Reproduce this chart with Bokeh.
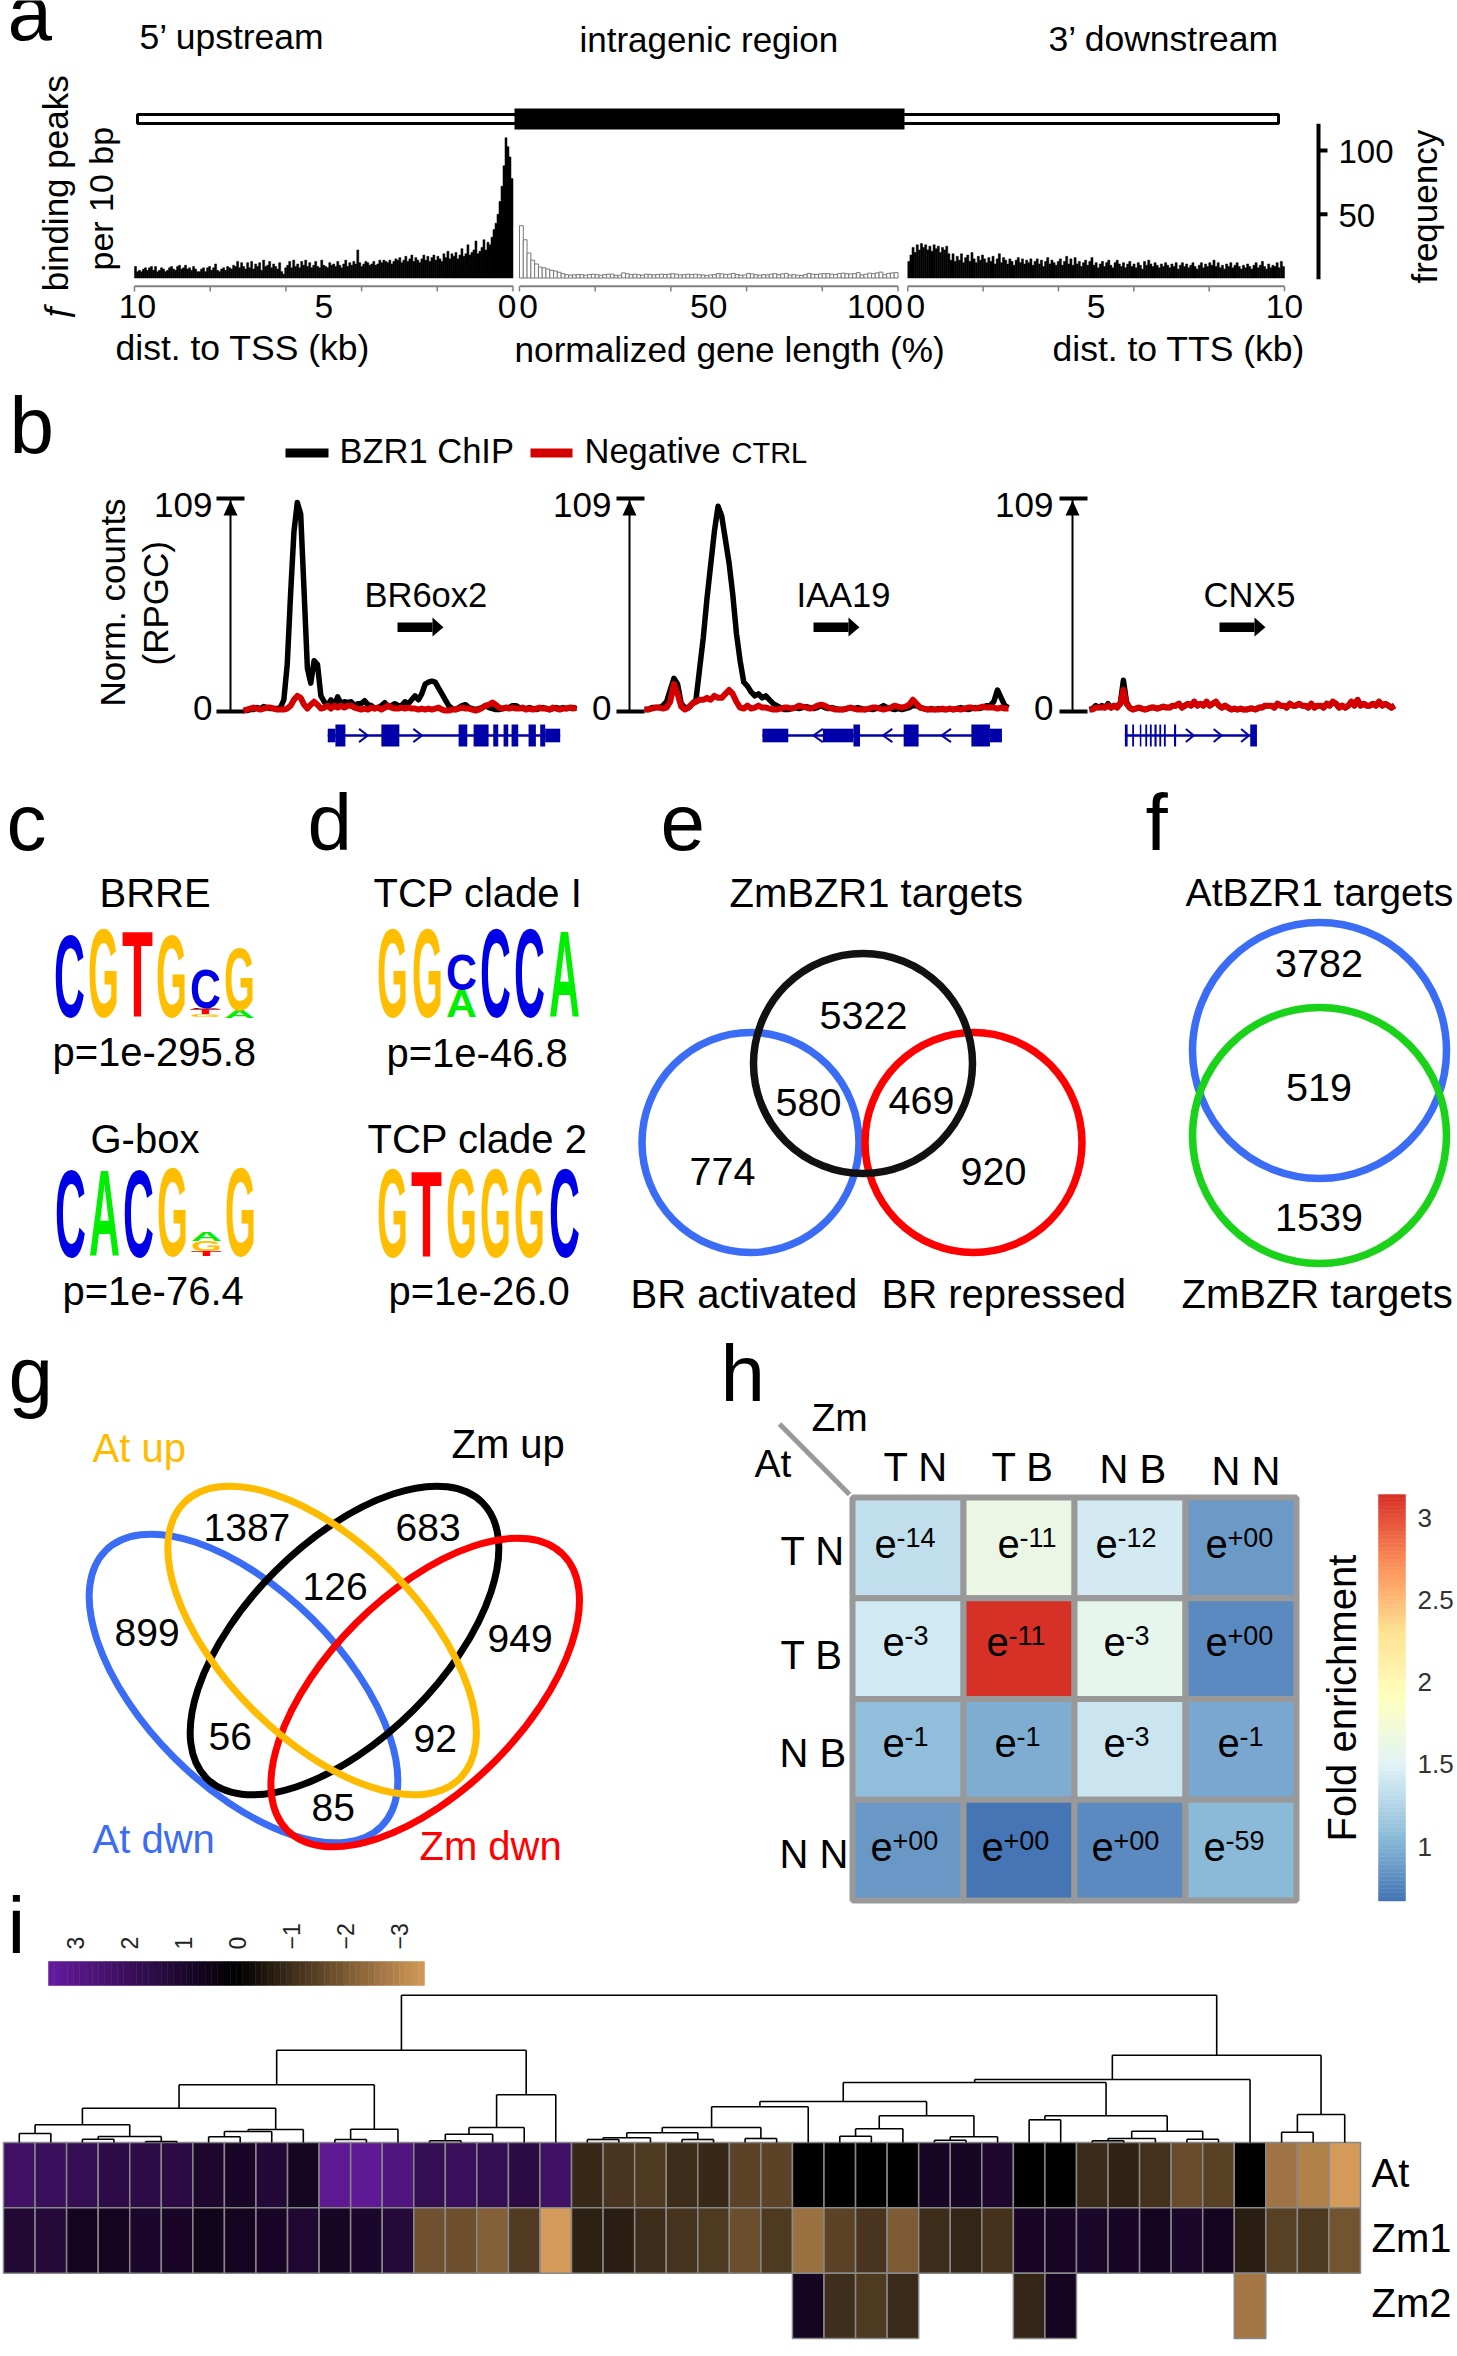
import numpy as np
from bokeh.core.properties import value
from bokeh.embed import file_html
from bokeh.layouts import column
from bokeh.models import ColumnDataSource, Div, LinearColorMapper, Range1d
from bokeh.plotting import figure
from bokeh.resources import INLINE
from bokeh.transform import transform

# ---------- panel a ----------
hist_upstream = [
 9,5,6,5,7,8,6,8,9,6,9,5,6,8,7,5,6,8,9,7,6,9,10,7,8,10,7,8,6,9,7,5,
 5,7,8,5,8,9,6,8,11,6,5,7,8,6,9,8,7,10,9,13,8,12,9,7,12,8,13,7,11,9,12,6,14,
 9,10,13,8,11,9,7,12,5,3,8,10,13,8,14,9,11,8,13,10,14,9,12,8,10,13,9,8,14,10,9,8,12,
 10,11,9,13,10,8,11,14,9,12,10,13,11,22,12,9,11,13,12,10,11,13,10,11,14,12,14,13,12,14,11,13,15,
 14,16,12,14,17,13,15,18,13,16,14,12,15,18,14,17,13,16,18,14,17,15,13,19,16,21,15,19,17,20,15,18,23,
 17,19,26,18,20,22,29,19,21,24,30,22,28,26,32,38,43,50,60,72,88,110,103,95,78]
hist_intragenic = [
 41,30,19.6,14,11,8.6,8,7,6,5.5,4.5,3.4,2.6,2.2,2.5,2.8,2.6,2.2,2.8,3,2.6,2.2,2.6,3,3,2,2.2,4,3.4,2.6,
 3,2.6,2.2,3,2.8,2.4,2.8,3,2.8,3,3.4,3,2.4,2.6,3,2.8,3,2.6,2.4,2,2.4,2.6,3.4,3.2,2.8,3,3.6,2.8,2.2,2.4,
 3.6,3.2,2.6,2.2,2.6,2.4,3,3.4,2.6,3.2,3.6,2.4,2.6,2.2,2,2.6,3.6,3,2.8,3.2,3.4,3.4,3,2.8,3.4,3.8,3.4,
 3.2,3.4,4.2,2.4,3,3.8,3.4,4,4.6,2.6,3.6,4,4.2]
hist_downstream = [
 13,18,24,20,26,22,27,24,26,22,25,21,26,23,25,20,24,22,25,19,
 14,19,13,17,14,19,12,16,18,13,20,15,12,17,14,18,15,12,16,13,
 17,11,15,19,12,16,14,11,15,13,10,14,16,12,15,11,14,12,15,10,
 13,15,11,14,9,13,16,11,14,12,10,13,15,10,13,17,11,15,10,16,
 11,13,9,12,14,10,13,16,10,12,8,11,13,9,12,14,10,8,12,14,
 11,9,12,8,11,13,9,11,8,12,10,7,13,10,14,11,9,12,10,8,
 11,9,12,10,8,11,9,12,7,10,12,9,11,8,10,12,9,7,10,12,
 8,11,9,12,10,14,9,12,8,10,7,11,9,12,8,10,12,9,7,10,
 8,11,9,7,10,12,8,10,13,9,7,11,8,10,9,12,8,13,9]
kb_ticks = [10, 8, 6, 4, 2, 0]
pct_ticks = [0, 20, 40, 60, 80, 100]
kb_ticks_down = [0, 2, 4, 6, 8, 10]
freq_ticks = [50, 100]

# ---------- panel b ----------
br6ox2_chip = [0.5,0.5,1,1,2,1.5,2.5,2,1.5,1.5,1.5,2,6,24,60,92,107,101,62,22,14.5,26,24,8,5,3,6,3,7.5,4,5,4.5,5,3,4,4,5.5,3.5,3,1.5,2,3,4.5,2.5,3,4,3,3,5,4,6,8,6,9,14,15,15.5,15,12,9,6,3,1.5,1,2,3,3.5,2,1.5,1,1.5,2,3,2,1.5,1,1,1.5,2,2,3,3,2,1.5,1.5,2,1.5,1,1.5,2,1.5,1,1.5,2,1.5,2,1.5,2,2,1.5]
br6ox2_ctrl = [0.5,1,1.5,2,1.5,1,1.5,2,2,1.5,1,1,1,1.5,3,6,8,7,3.5,1.5,3.5,5,3.5,1.5,2,3,1.5,3,2,3,2,3,3,2,1.5,1,1.5,1,2,1.5,2,1,2,3,2,1.5,1.5,2,1.5,2,1.5,1.5,1,1.5,1,1.5,1,1.5,2,1,0.5,0.5,1,1,1.5,2,1.5,1.5,1,0.5,1,2,3,3.5,4.6,3.5,2,1.5,2,1.5,2,1.5,1.5,2,1,1.5,1,1.5,2,1.5,1.5,1,2,1.5,1,1.5,1.5,2,1.5,2]
iaa19_chip = [1,1,2,2,2,3,5,11,17,14,4,2,2,4,6,22,38,58,75,92,105,100,88,76,60,40,26,15,13,10,8,9,7,8,6,4,3,2,1,1,1.5,2,1.5,2,2.5,2,1.5,2,3,2,1.5,2,1.5,1,1,1.5,2,1.5,2,1.5,1,1.5,1,1.5,2,3,2,1.5,1,1.5,1,1.5,2,3,3,2,1.5,1,1.5,1,1.5,1,1,1.5,1,1.5,2,1.5,1,1.5,2,1.5,2,3,3,5,11,7,3,2]
iaa19_ctrl = [1,1,1.5,2,2,1.5,2,5,14,9,2.5,1,2,4,5,6,6,7,6,8,7,7,9,11,9,5,2,1.5,3,1.5,2,3,2,2,1.5,1,1,1.5,2,2,1.5,2,3,2.5,2,1.5,2,3,3.5,3,2,1.5,1,1,1,1.5,2,1.5,1,1,1,1.5,2,2,1.5,1,1.5,2,3,2.5,2,2.5,3.5,6,4,2,1.5,1,1,1,1,1.5,1,1.5,1,1.5,1,1.5,2,2,1.5,2,2.5,2,2,2,1.5,2,1.5,1.5]
cnx5_chip = [1,1.5,3,2,3,2,4,2,3,3,4,16,5,2,1,1.5,2,1.5,1,1.5,2,2,1.5,2,2.5,2,2,3,3,4,2,3,4,3,5,3,4,3,5,3,4,5,3,2,3,2,1,1.5,1,1.5,1,1,1.5,1.5,1,2,2,3,3,3,2,4,3,3,2,4,3,3,4,3,3,2,4,2,3,3,2,4,3,5,4,2,3,2,3,5,3,6,3,4,3,3,4,3,5,3,4,3,2,3]
cnx5_ctrl = [1,1,2,2,2,2,3,2,3,2,4,11,4,2,1,1.5,2,1.5,1,1.5,2,2,1.5,2,2.5,2,2,3,3,4,2,3,4,3,5,3,4,3,5,3,4,5,3,2,3,2,1,1.5,1,1.5,1,1,1.5,1.5,1,2,2,3,3,3,2,4,3,3,2,4,3,3,4,3,3,2,4,2,3,3,2,4,3,5,4,2,3,2,3,5,3,6,3,4,3,3,4,3,5,3,4,3,2,3]
track_names = ["BR6ox2", "IAA19", "CNX5"]
track_ticks = ["0", "109"]
exon_start_1 = [25.3,27.6,41.4,64.6,69.1,75.0,78.1,80.5,85.6,89.1,90.6]
exon_end_1 = [27.6,30.6,46.8,67.2,73.6,76.5,79.5,82.5,87.8,90.6,95.1]
exon_size_1 = [0.62,1,1,1,1,1,1,1,1,1,0.62]
exon_start_2 = [32.4,49.0,57.4,71.2,89.8,94.9]
exon_end_2 = [39.5,57.4,59.2,75.3,94.9,98.2]
exon_size_2 = [0.62,0.62,1,1,1,0.62]
exon_start_3 = [11.6,14.0,16.5,18.3,19.8,21.3,22.9,24.4,27.7,52.7]
exon_end_3 = [12.5,14.6,17.0,18.9,20.4,22.0,23.5,25.0,28.4,54.9]
exon_size_3 = [1,1,1,1,1,1,1,1,1,1]
chevrons_1 = [36.0,52.3]
chevrons_2 = [47.7,66.8,82.9]
chevrons_3 = [32.9,42.0,51.0]

# ---------- panels c, d ----------
logo_brre = [[("C",1.85)],[("G",2.0)],[("T",1.93)],[("G",1.87)],
             [("G",0.05),("T",0.12),("k",0.03),("C",0.87)],[("A",0.16),("G",1.40)]]
logo_gbox = [[("C",1.98)],[("A",1.95)],[("C",1.98)],[("G",2.0)],
             [("T",0.12),("G",0.22),("A",0.20)],[("G",2.0)]]
logo_tcp1 = [[("G",2.0)],[("G",2.0)],[("A",0.62),("C",0.80)],[("C",2.0)],[("C",2.0)],[("A",1.95)]]
logo_tcp2 = [[("G",2.0)],[("T",1.95)],[("G",2.0)],[("G",2.0)],[("G",2.0)],[("C",2.0)]]
logo_colors = {"C":"#0000e6","G":"#ffbf00","T":"#ff0000","A":"#00ee00","k":"#000000"}

# ---------- panels e, f, g ----------
venn_e_counts = ["5322","580","469","774","920"]
venn_f_counts = ["3782","519","1539"]
venn_g_counts = ["1387","683","126","899","949","56","92","85"]

# ---------- panel h ----------
enrich_cols = ["T N","T B","N B","N N"]
enrich_rows = ["T N","T B","N B","N N"]
fold_enrichment = [
 [1.33,1.64,1.43,0.875],
 [1.42,3.14,1.58,0.79],
 [1.08,0.98,1.38,0.95],
 [0.87,0.67,0.79,1.05]]
enrich_p = [
 ["-14","-11","-12","+00"],
 ["-3","-11","-3","+00"],
 ["-1","-1","-3","-1"],
 ["+00","+00","+00","-59"]]
fold_ticks = [3,2.5,2,1.5,1]

# ---------- panel i ----------
row_at = [2.2,2.0,1.8,1.6,1.6,1.5,1.0,0.85,1.2,0.75,3.2,3.3,2.8,1.8,2.0,1.8,1.5,2.2,
          -0.9,-1.2,-1.3,-1.0,-0.9,-1.5,-1.5,0,0,0,0,0.8,0.8,1.0,0,0,
          -0.95,-0.8,-1.1,-1.7,-1.45,0,-2.6,-2.9,-3.5]
row_zm1 = [1.15,1.3,0.7,0.7,0.95,0.85,0.6,0.7,0.85,1.1,0.8,0.95,1.25,-1.85,-1.8,-2.15,-1.35,-3.5,
           -0.75,-0.7,-1.0,-1.15,-1.3,-1.75,-1.3,-2.55,-1.5,-1.2,-2.05,-1.0,-0.85,-1.1,
           0.85,0.85,0.9,0.85,0.7,0.9,0.7,-0.7,-1.45,-1.3,-1.9]
zm2_cols = [25,26,27,28,32,33,39]
row_zm2 = [0.7,-1.05,-1.3,-0.95,-0.85,0.7,-2.7]
color_ticks = ["3","2","1","0","\u22121","\u22122","\u22123"]
# merge tree: ids < 43 are leaves, 43+k is the k-th merge (left, right, height)
dendro = [(0,1,9),(2,3,3.3),(4,5,1),(44,45,6),(43,46,17.7),(6,7,5.7),(48,8,11),(49,9,13),(47,50,34.3),
          (10,11,3),(52,12,13.3),(51,53,57.7),(13,14,1.7),(55,15,8.3),(56,16,15),(57,17,47.7),(54,58,92.3),
          (18,19,3),(60,20,4.7),(21,22,3),(61,62,9.7),(23,24,4),(63,64,15),(65,25,35.7),(26,27,6.3),(67,28,13.7),
          (29,30,2.3),(69,31,5.7),(68,70,26.7),(66,71,41),(32,33,22.7),(34,35,1.7),(74,36,4),(37,38,3.3),
          (75,76,11.3),(73,77,26.7),(72,78,60),(79,39,63),(40,41,10.3),(81,42,28),(80,82,87.3),(59,83,147.3)]

FONT = value("Liberation Sans")
p = figure(width=1457, height=2356, x_range=Range1d(0, 1457), y_range=Range1d(2356, 0),
           toolbar_location=None, output_backend="svg", x_axis_location=None, y_axis_location=None,
           min_border=0, outline_line_color=None, background_fill_color="white", border_fill_color="white")
p.grid.visible = False
BASE = 0.37   # the text glyph's alphabetic anchor sits this many em above the drawn baseline


def T(x, y, s, size, color="black", align="left", angle=0.0):
    if angle:
        x = x - BASE * size
    else:
        y = y - BASE * size
    p.text([x], [y], text=[s], text_font=FONT, text_font_size=f"{size}px", text_color=color,
           text_align=align, text_baseline="alphabetic", angle=angle)


def sub(x0, x1, px0, px1, y0, y1, py0, py1):
    return p.subplot(x_source=Range1d(x0, x1), y_source=Range1d(y0, y1),
                     x_target=Range1d(px0, px1), y_target=Range1d(py0, py1))


def ramp(stops, n):
    stops = np.array([[int(c[i:i+2], 16) for i in (1, 3, 5)] for c in stops], float)
    t = np.linspace(0, len(stops) - 1, n)
    rgb = np.stack([np.interp(t, np.arange(len(stops)), stops[:, k]) for k in range(3)], 1).round().astype(int)
    return ["#%02x%02x%02x" % tuple(c) for c in rgb]


# panel letters
for s, x, y in [("a",7,42),("b",9,455),("c",6,852),("d",307,852),("e",660,852),("f",1145,852),
                ("g",8,1404),("h",720,1403),("i",7,1955)]:
    T(x, y, s, 80)

# ===== a =====
T(139, 50, "5\u2019 upstream", 35.5)
T(579, 52, "intragenic region", 35)
T(1048, 52, "3\u2019 downstream", 35.5)
p.quad(left=[137], right=[1278], top=[114], bottom=[123], fill_color="white", line_color="black", line_width=3)
p.quad(left=[514], right=[904], top=[108], bottom=[129], fill_color="black", line_color=None)

a_y = (0, 100, 277.5, 150)
a1 = sub(10, 0, 134, 512.5, *a_y)
a2 = sub(0, 100, 519, 897.5, *a_y)
a3 = sub(0, 10, 907.3, 1284, *a_y)
w1 = 10 / len(hist_upstream)
a1.vbar(x=10 - (np.arange(len(hist_upstream)) + .5) * w1, top=hist_upstream, bottom=0, width=w1,
        fill_color="black", line_color="black", line_width=0.5)
a2.vbar(x=np.arange(len(hist_intragenic)) + .5, top=hist_intragenic, bottom=0, width=1,
        fill_color="white", line_color="#777777", line_width=1)
w3 = 10 / len(hist_downstream)
a3.vbar(x=(np.arange(len(hist_downstream)) + .5) * w3, top=hist_downstream, bottom=0, width=w3,
        fill_color="black", line_color="black", line_width=0.5)
for sp, ticks in [(a1, kb_ticks), (a2, pct_ticks), (a3, kb_ticks_down)]:
    sp.segment(x0=[ticks[0]], x1=[ticks[-1]], y0=[-6.5], y1=[-6.5], line_color="#808080", line_width=2)
    sp.segment(x0=ticks, x1=ticks, y0=[-6.5]*6, y1=[-10.5]*6, line_color="#808080", line_width=1.5)
for sp, t, s, off in [(a1,10,"10",3),(a1,5,"5",0),(a1,0,"0",-6),(a2,0,"0",9),(a2,50,"50",0),(a2,100,"100",-23),
                      (a3,0,"0",8),(a3,5,"5",0),(a3,10,"10",0)]:
    sp.text([t], [-32], text=[s], text_font=FONT, text_font_size="33.5px", text_align="center",
            text_baseline="alphabetic", x_offset=off, y_offset=-BASE * 33.5)
T(115, 361, "dist. to TSS (kb)", 35.5)
T(514, 362, "normalized gene length (%)", 35.2)
T(1052, 362, "dist. to TTS (kb)", 35.5)
T(68, 320, "\u0192 binding peaks", 35, angle=np.pi/2)
T(113, 270, "per 10 bp", 34, angle=np.pi/2)
T(1437, 283, "frequency", 35, angle=np.pi/2)
a4 = sub(0, 1, 1316, 1320, *a_y)
a4.quad(left=[0], right=[1], top=[121], bottom=[-1], fill_color="black", line_color=None)
a5 = sub(0, 1, 1318, 1327, *a_y)
a5.segment(x0=[0, 0], x1=[1, 1], y0=freq_ticks, y1=freq_ticks, line_color="black", line_width=4)
T(1338, 163, "100", 33)
T(1338, 227, "50", 33)

# ===== b =====
p.quad(left=[285], right=[328], top=[448], bottom=[457], fill_color="black", line_color=None)
p.quad(left=[530], right=[572], top=[448], bottom=[457], fill_color="#d40000", line_color=None)
T(339, 463, "BZR1 ChIP", 34.5)
T(584, 463, "Negative", 34.5)
T(731, 463, "CTRL", 29)

tracks = [
    (243, 576, 230, 216, 244, 212, br6ox2_chip, br6ox2_ctrl, exon_start_1, exon_end_1, exon_size_1, chevrons_1, 1, (364, 397, 443)),
    (644, 1008, 629, 616, 644, 611, iaa19_chip, iaa19_ctrl, exon_start_2, exon_end_2, exon_size_2, chevrons_2, -1, (796, 813, 859)),
    (1089, 1394, 1072, 1059, 1087, 1053, cnx5_chip, cnx5_ctrl, exon_start_3, exon_end_3, exon_size_3, chevrons_3, 1, (1203, 1219, 1265)),
]
for i, (x0, x1, ax, tl, tr, lab, chip, ctrl, es, ee, sz, chev, direction, (nx, ar0, ar1)) in enumerate(tracks):
    tr_sp = sub(0, 100, x0, x1, 0, 109, 711, 498)
    axis_sp = sub(0, 1, ax, ax + 1, 0, 109, 711, 498)
    axis_sp.segment(x0=[0], x1=[0], y0=[0], y1=[109], line_color="black", line_width=2)
    bar_sp = sub(0, 1, tl, tr, 0, 109, 711, 498)
    bar_sp.segment(x0=[0, 0], x1=[1, 1], y0=[0, 109], y1=[0, 109], line_color="black", line_width=4)
    p.patch([ax, ax - 7, ax + 7], [500, 515, 515], fill_color="black", line_color=None)
    T(lab, 517, track_ticks[1], 35, align="right")
    T(lab, 720, track_ticks[0], 35, align="right")
    tr_sp.line(np.linspace(0, 100, len(chip)), chip, line_color="black", line_width=5.5, line_join="round")
    tr_sp.line(np.linspace(0, 100, len(ctrl)), ctrl, line_color="#d40000", line_width=6, line_join="round")
    lane = sub(0, 100, x0, x1, -1, 1, 746, 724)
    lane.segment(x0=[es[0]], x1=[ee[-1]], y0=[0], y1=[0], line_color="#0000a8", line_width=2.5)
    lane.quad(left=es, right=ee, top=sz, bottom=[-s for s in sz], fill_color="#0000a8", line_color=None)
    c = np.array(chev)
    dx = 1.3 * direction
    lane.segment(x0=c - dx, x1=c + dx, y0=[0.6]*len(c), y1=[0]*len(c), line_color="#0000a8", line_width=2)
    lane.segment(x0=c - dx, x1=c + dx, y0=[-0.6]*len(c), y1=[0]*len(c), line_color="#0000a8", line_width=2)
    T(nx, 607, track_names[i], 34.5)
    p.quad(left=[ar0], right=[ar1 - 11], top=[622], bottom=[631.5], fill_color="black", line_color=None)
    p.patch([ar1 - 11, ar1, ar1 - 11], [617, 626.7, 636], fill_color="black", line_color=None)
T(125, 706, "Norm. counts", 35, angle=np.pi/2)
T(168, 665, "(RPGC)", 35, angle=np.pi/2)

# ===== c d =====
for s, x, y in [("BRRE",99,907),("p=1e-295.8",52,1066),("G-box",90,1153),("p=1e-76.4",62,1305),
                ("TCP clade I",373,907),("p=1e-46.8",386,1067),("TCP clade 2",367,1153),("p=1e-26.0",388,1305)]:
    T(x, y, s, 40)

CAP = 68.8      # cap height of the bold face at 100px
CAP_TOP = 15.85  # distance from the line box top to the capital top at 100px
advance = {"C":72.2,"G":77.8,"T":61.1,"A":72.2,"k":72.2}
logo_html = []
for logo, lx, ly, pitch in [(logo_brre,50,1012,34.0),(logo_gbox,51,1251,34.0),(logo_tcp1,373,1012,34.3),(logo_tcp2,373,1252,34.3)]:
    for j, stack in enumerate(logo):
        base = ly
        for letter, bits in stack:
            h = bits * 43.3
            sy = h / CAP
            sx = 31 / advance[letter]
            ch = "C" if letter == "k" else letter
            top = base - h - CAP_TOP * sy
            left = lx + j * pitch - 4.0 * sx * 0.5
            logo_html.append(
                f"<span style=\"position:absolute;left:{left:.1f}px;top:{top:.1f}px;"
                f"font:bold 100px/100px 'Liberation Sans';color:{logo_colors[letter]};"
                f"transform-origin:0 0;transform:scale({sx:.3f},{sy:.3f})\">{ch}</span>")
            base -= h + 0.4
logo_div = Div(text="".join(logo_html), width=10, height=10,
               styles={"position": "absolute", "left": "0px", "top": "0px", "z-index": "5"})

# ===== e f =====
T(729, 907, "ZmBZR1 targets", 40)
T(1185, 907, "AtBZR1 targets", 39.2)
p.ellipse(x=[750], y=[1142], width=[217], height=[220], fill_color=None, line_color="#3b6cf5", line_width=7.5)
p.ellipse(x=[973], y=[1142], width=[217], height=[220], fill_color=None, line_color="#ff0000", line_width=7.5)
p.ellipse(x=[862.5], y=[1063], width=[219], height=[220], fill_color=None, line_color="#111111", line_width=7.5)
p.ellipse(x=[1319], y=[1050], width=[254], height=[256], fill_color=None, line_color="#3b6cf5", line_width=7.5)
p.ellipse(x=[1319], y=[1135], width=[254], height=[256], fill_color=None, line_color="#1ad21a", line_width=7.5)
for s, x, y in zip(venn_e_counts, [819,775,888,689,960], [1030,1117,1115,1186,1186]):
    T(x, y, s, 39.5)
for s, y in zip(venn_f_counts, [978,1102,1232]):
    T(1318.5, y, s, 39.5, align="center")
T(630, 1308, "BR activated", 40)
T(881, 1308, "BR repressed", 40)
T(1181, 1308, "ZmBZR targets", 40)

# ===== g =====
for cx, cy, ang, col in [(243,1688,-45,"#3b6cf5"),(344,1640,45,"#000000"),(424.7,1692,45,"#ff0000"),(321.6,1640,-45,"#ffbb00")]:
    p.ellipse(x=[cx], y=[cy], width=[390], height=[196], angle=[ang], angle_units="deg",
              fill_color=None, line_color=col, line_width=7)
for s, x, y in zip(venn_g_counts, [203,395,302,114,487,208,413,311], [1541,1541,1600,1646,1652,1750,1752,1821]):
    T(x, y, s, 39)
T(92, 1462, "At up", 40, color="#ffbb00")
T(451, 1458.5, "Zm up", 40)
T(92, 1853, "At dwn", 40, color="#3b6cf5")
T(419, 1860, "Zm dwn", 40, color="#ff0000")

# ===== h =====
rdylbu = ramp(["#4575b4","#91bfdb","#e0f3f8","#ffffbf","#fee090","#fc8d59","#d73027"], 256)
fold_map = LinearColorMapper(palette=rdylbu, low=0.67, high=3.14)
h_sp = sub(0, 4, 852, 1296, 0, 4, 1900, 1497)
n = len(enrich_rows)
src = ColumnDataSource(dict(
    x=[c + .5 for r in range(n) for c in range(n)],
    y=[n - r - .5 for r in range(n) for c in range(n)],
    v=[fold_enrichment[r][c] for r in range(n) for c in range(n)]))
h_sp.rect(x="x", y="y", width=1, height=1, source=src, fill_color=transform("v", fold_map),
          line_color="#999999", line_width=6)
p.line([779, 849], [1423.5, 1494], line_color="#999999", line_width=5)
e_x = [[874,997,1095,1205],[882,986,1103,1205],[882,994,1103,1217],[870,981,1091,1203]]
e_y = [1558,1656,1757,1861]
for r in range(n):
    for c in range(n):
        T(e_x[r][c], e_y[r], "e", 40)
        T(e_x[r][c] + 22, e_y[r] - 11, enrich_p[r][c], 27)
for s, x, y in zip(enrich_cols, [883,991,1099,1211], [1481,1481,1483,1485]):
    T(x, y, s, 40)
for s, x, y in zip(enrich_rows, [780,780,779,779], [1565,1669,1767,1868]):
    T(x, y, s, 40)
T(811, 1431.5, "Zm", 39)
T(754, 1477, "At", 39)
T(1356, 1841, "Fold enrichment", 40, angle=np.pi/2)
leg_sp = sub(0, 1, 1378, 1405, 0.67, 3.14, 1900.5, 1494)
edges = np.linspace(0.67, 3.14, 101)
leg_src = ColumnDataSource(dict(bottom=edges[:-1], top=edges[1:], v=(edges[:-1] + edges[1:]) / 2))
leg_sp.quad(left=0, right=1, bottom="bottom", top="top", source=leg_src,
            fill_color=transform("v", fold_map), line_color=transform("v", fold_map), line_width=0.5)
tick_sp = sub(0, 1, 1417, 1418, 0.67, 3.14, 1900.5, 1494)
for v in fold_ticks:
    tick_sp.text([0], [v], text=[f"{v:g}"], text_font=FONT, text_font_size="26px", text_color="#333333",
                 text_baseline="middle")

# ===== i =====
heat_pal = ramp(["#d49a59", "#000000", "#651a9e"], 255)
heat_map = LinearColorMapper(palette=heat_pal, low=-3.5, high=3.5)
i_sp = sub(0, 43, 3, 1360, 0, 3, 2338, 2142)
cols_i = list(range(43))
heat_src = ColumnDataSource(dict(
    x=[c + .5 for c in cols_i] * 2 + [c + .5 for c in zm2_cols],
    y=[2.5] * 43 + [1.5] * 43 + [0.5] * len(zm2_cols),
    v=list(row_at) + list(row_zm1) + list(row_zm2)))
i_sp.rect(x="x", y="y", width=1, height=1, source=heat_src, fill_color=transform("v", heat_map),
          line_color="#888888", line_width=1.5)
for s, y in zip(["At", "Zm1", "Zm2"], [2187, 2252, 2317]):
    T(1371, y, s, 40)
# colour key
key_sp = sub(3.5, -3.47, 48, 424, 0, 1, 1985, 1961)
ke = np.linspace(3.5, -3.47, 61)
key_src = ColumnDataSource(dict(left=ke[:-1], right=ke[1:], v=(ke[:-1] + ke[1:]) / 2))
key_sp.quad(left="left", right="right", bottom=0, top=1, source=key_src,
            fill_color=transform("v", heat_map), line_color=transform("v", heat_map), line_width=0.5)
key_vals = [3, 2, 1, 0, -1, -2, -3]
key_lab = sub(3.5, -3.47, 48, 424, 0, 1, 1949, 1948)
key_lab.text(key_vals, [0] * 7, text=color_ticks, text_font=FONT, text_font_size="23px", text_color="#222222",
             text_align="left", text_baseline="middle", angle=np.pi / 2)
# dendrogram
dn_x = {i: i + .5 for i in range(43)}
dn_h = {i: 0.0 for i in range(43)}
sx0, sx1, sy0, sy1 = [], [], [], []
for k, (a, b, h) in enumerate(dendro):
    nid = 43 + k
    dn_x[nid] = (dn_x[a] + dn_x[b]) / 2
    dn_h[nid] = h
    sx0 += [dn_x[a], dn_x[a], dn_x[b]]
    sx1 += [dn_x[b], dn_x[a], dn_x[b]]
    sy0 += [h, dn_h[a], dn_h[b]]
    sy1 += [h, h, h]
d_sp = sub(0, 43, 3, 1360, 0, 150, 2142, 1992)
d_sp.segment(x0=sx0, x1=sx1, y0=sy0, y1=sy1, line_color="black", line_width=1.6)

open("out.html", "w").write(file_html(column(p, logo_div), INLINE))
